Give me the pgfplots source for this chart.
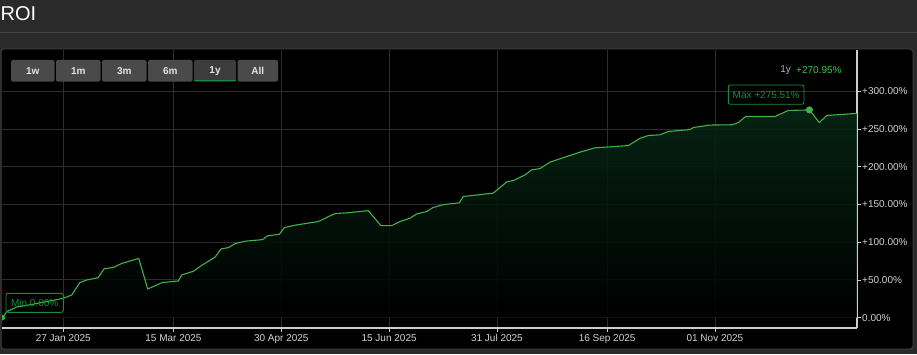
\documentclass[border=0pt]{standalone}
\usepackage{pgfplots}
\pgfplotsset{compat=1.18}
\usepackage{pgfplotstable}
\usepackage{fontspec}
\setmainfont{Liberation Sans}
\definecolor{bgdark}{RGB}{42,42,42}
\definecolor{sepline}{RGB}{70,70,70}
\definecolor{panelborder}{RGB}{62,62,62}
\definecolor{gridc}{RGB}{44,44,50}
\definecolor{axisc}{RGB}{205,205,205}
\definecolor{ticklab}{RGB}{210,210,210}
\definecolor{linegreen}{RGB}{64,178,72}
\definecolor{fillgreen}{RGB}{6,40,22}
\definecolor{annogreen}{RGB}{24,140,62}
\definecolor{valgreen}{RGB}{60,200,70}
\definecolor{btn}{RGB}{74,74,74}
\definecolor{btnsel}{RGB}{60,60,60}
\definecolor{btntext}{RGB}{228,228,228}
\definecolor{greytext}{RGB}{180,180,180}

\pgfplotstableread{
d v
1 0
2.9 7.8
7.1 14.1
10.7 15.8
27 25.6
30.6 30.0
34.1 46.6
37.0 49.9
41.9 53.0
44.4 64.8
48.3 66.5
51.9 71.8
59.2 78.5
63.0 38.0
69.3 46.6
76.1 48.6
77.5 56.6
82.5 61.5
86.0 69.2
91.7 80.1
94.3 91.1
97.4 92.8
100.3 98.1
104.5 101.3
112.1 103.5
114.0 108.4
119.2 110.6
121.3 119.4
126.6 123.0
135.8 127.4
140.1 134.0
142.9 138.0
149.3 139.3
157.1 142.0
162.5 122.0
167.1 122.0
170.6 127.4
174.9 131.9
177.8 137.6
182.0 140.6
184.6 145.9
189.1 149.9
195.9 152.2
197.6 160.6
210.4 165.1
216.2 180.1
219.0 181.8
224.0 189.4
226.8 196.0
230.4 197.7
234.6 206.2
247.4 219.5
253.8 225.2
268.0 228.2
273.0 237.8
276.6 241.6
281.6 242.5
285.1 246.9
294.4 249.5
295.8 252.2
302.9 255.4
312.2 255.8
315.0 258.8
318.1 266.8
330.6 266.8
336.3 274.8
345.3 275.51
349.5 258.8
352.7 268.1
365.5 270.95
}\roi

\begin{document}
\begin{tikzpicture}[x=1pt,y=1pt]
\useasboundingbox (0,0) rectangle (917,354);
\fill[bgdark] (0,0) rectangle (917,354);
\draw[sepline, line width=1pt] (0,321) -- (917,321);
\node[anchor=base west, inner sep=0pt, text=white, font=\fontsize{20}{24}\selectfont] at (0.5,333.3) {ROI};
\filldraw[fill=black, draw=panelborder, line width=1pt, rounded corners=3pt] (1,5) rectangle (913,305);

\begin{axis}[
  at={(2pt,26pt)}, anchor=south west,
  scale only axis, width=855pt, height=278pt,
  enlargelimits=false,
  xmin=0.85, xmax=365.6, ymin=-13.8, ymax=355,
  axis x line*=bottom, axis y line*=right,
  axis line style={-, axisc, line width=1.2pt},
  xtick={27,74,120,166,212,259,305},
  xticklabels={27 Jan 2025,15 Mar 2025,30 Apr 2025,15 Jun 2025,31 Jul 2025,16 Sep 2025,01 Nov 2025},
  ytick={0,50,100,150,200,250,300},
  yticklabels={0.00\%,+50.00\%,+100.00\%,+150.00\%,+200.00\%,+250.00\%,+300.00\%},
  tick align=outside,
  major tick length=4pt,
  tick style={axisc, line width=0.8pt},
  grid=major,
  major grid style={gridc, line width=0.9pt},
  xticklabel style={text=ticklab, font=\fontsize{10}{12}\selectfont, inner sep=0pt, anchor=north, yshift=-2pt},
  yticklabel style={text=ticklab, font=\fontsize{10}{12}\selectfont, inner sep=0pt, anchor=west, xshift=1pt},
  clip marker paths=true,
]
\addplot[draw=none, top color=fillgreen, bottom color=black, fill opacity=0.88, forget plot] table[x=d,y=v] {\roi} \closedcycle;
\addplot[linegreen, line width=1.1pt, forget plot] table[x=d,y=v] {\roi};
\addplot[only marks, mark=*, mark size=3.3pt, color=linegreen, forget plot] coordinates {(345.3,275.51)};
\addplot[only marks, mark=*, mark size=2.5pt, color=linegreen, forget plot] coordinates {(1,0)};
\end{axis}

% range buttons
\foreach \xa/\xb/\lab in {11/54.5/1w, 56/100.5/1m, 102/146.5/3m, 148/192.5/6m, 237.5/278/All}{
  \fill[btn, rounded corners=2pt] (\xa,272.3) rectangle (\xb,294);
  \node[text=btntext, font=\fontsize{10}{12}\selectfont\bfseries] at ({(\xa+\xb)/2},283.2) {\lab};
}
\fill[btnsel, rounded corners=2pt] (194,272.3) rectangle (236,294);
\draw[annogreen, line width=1pt] (194,273) -- (236,273);
\node[text=btntext, font=\fontsize{10}{12}\selectfont\bfseries] at (215,283.2) {1y};

\node[anchor=east, inner sep=0pt, text=greytext, font=\fontsize{10}{12}\selectfont] at (791,284) {1y};
\node[anchor=west, inner sep=0pt, text=valgreen, font=\fontsize{10}{12}\selectfont] at (796,284) {+270.95\%};

% annotations
\draw[annogreen, line width=0.9pt, rounded corners=2pt] (728.3,249.7) rectangle (804,269);
\node[text=annogreen, font=\fontsize{10}{12}\selectfont, inner sep=0pt] at (766.2,259.3) {Max +275.51\%};
\draw[annogreen, line width=0.9pt, rounded corners=2pt] (6,41.7) rectangle (63.3,60.7);
\node[text=annogreen, font=\fontsize{10}{12}\selectfont, inner sep=0pt] at (34.7,51.2) {Min 0.00\%};
\end{tikzpicture}
\end{document}
